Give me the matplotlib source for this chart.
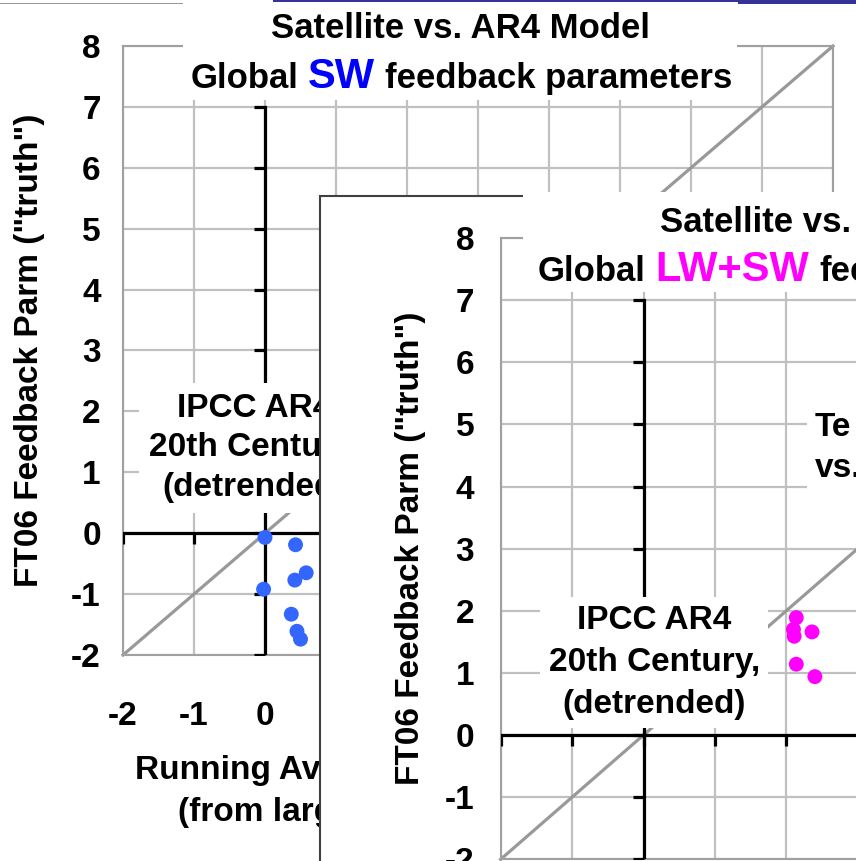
import matplotlib
matplotlib.use("Agg")
import matplotlib.pyplot as plt
from matplotlib.patches import Rectangle
from matplotlib.offsetbox import TextArea, HPacker, AnnotationBbox

plt.rcParams['font.family'] = ['Liberation Sans', 'DejaVu Sans']
plt.rcParams['font.weight'] = 'bold'
plt.rcParams['axes.unicode_minus'] = False

# data
ticks = list(range(-2, 9))
axis_ticks = list(range(-2, 8))
# back slide x labels right of 0 sit under the front slide
back_xticklabels = ['-2', '-1', '0'] + [''] * 8

# back slide: SW feedback (running avg slope vs FT06 "truth")
sw_x = [0.00, 0.43, 0.58, 0.42, -0.02, 0.37, 0.45, 0.50]
sw_y = [-0.07, -0.19, -0.65, -0.77, -0.92, -1.33, -1.61, -1.74]

# front slide: LW+SW feedback
net_x = [2.14, 2.10, 2.11, 2.36, 2.14, 2.40]
net_y = [1.89, 1.70, 1.59, 1.66, 1.14, 0.94]

ylabel_text = 'FT06 Feedback Parm ("truth")'
ipcc_text = "IPCC AR4\n20th Century,\n(detrended)"
xlabel_lines = ["Running Avg.", "(from large"]

W, H = 856, 861
FS = 24
TFS = 25


def fx(px):
    return px / W


def fy(py):
    return 1 - py / H


def white_box(ax, x0, y0, x1, y1):
    # white cover box given in screen pixels (top-left origin)
    r = Rectangle((fx(x0), fy(y1)), (x1 - x0) / W, (y1 - y0) / H,
                  transform=ax.figure.transFigure, facecolor='white',
                  edgecolor='none', clip_on=False, zorder=4)
    ax.add_patch(r)


def rich_line(ax, parts, x, y, align):
    boxes = [TextArea(t, textprops=dict(fontsize=s, fontweight='bold', color=c))
             for t, s, c in parts]
    pack = HPacker(children=boxes, align='baseline', pad=0, sep=7)
    ab = AnnotationBbox(pack, (fx(x), fy(y)), xycoords='figure fraction',
                        box_alignment=(align, 0.5), frameon=False, pad=0,
                        annotation_clip=False, zorder=6)
    ax.add_artist(ab)


def draw_chart(ax, xs, ys, color, ylab_x, ypad):
    ax.set_xlim(-2, 8)
    ax.set_ylim(-2, 8)
    ax.set_xticks(ticks)
    ax.set_yticks(ticks)
    ax.grid(True, color='#c0c0c0', lw=1.6)
    ax.set_axisbelow(True)
    for s in ax.spines.values():
        s.set_color('#a0a0a0')
        s.set_linewidth(1.5)
    ax.tick_params(length=0, labelsize=FS)
    ax.tick_params(axis='x', pad=33)
    ax.tick_params(axis='y', pad=ypad)
    # 1:1 line
    ax.plot([-2, 8], [-2, 8], color='#999999', lw=2.3, zorder=2, clip_on=False)
    # black axes through the origin with their tick marks
    ax.plot([-2, 7], [0, 0], color='black', lw=2.3, zorder=2.6)
    ax.plot([0, 0], [-2, 7], color='black', lw=2.3, zorder=2.6)
    ax.plot(axis_ticks, [0] * len(axis_ticks), ls='none', marker=3, ms=8,
            mew=2.3, color='black', zorder=2.6)
    ax.plot([0] * len(axis_ticks), axis_ticks, ls='none', marker=0, ms=8,
            mew=2.3, color='black', zorder=2.6)
    ax.scatter(xs, ys, s=115, color=color, edgecolors='none', zorder=3)
    ax.text(ylab_x, 0.5, ylabel_text, rotation=90, transform=ax.transAxes,
            ha='center', va='center', fontsize=FS)


fig = plt.figure(figsize=(W / 100, H / 100), dpi=100)

# ---- back slide ----
ax1 = fig.add_axes([fx(123), fy(655), (833 - 123) / W, (655 - 46) / H])
ax1.set_zorder(0)
draw_chart(ax1, sw_x, sw_y, '#3366ff', -0.131, 16)
ax1.set_xticklabels(back_xticklabels)
ax1.text(-0.15, 1.40, ipcc_text, ha='center', va='center', fontsize=FS,
         linespacing=1.35, zorder=5,
         bbox=dict(facecolor='white', edgecolor='none', boxstyle='square,pad=0.3'))
white_box(ax1, 183, 0, 737, 100)
rich_line(ax1, [("Satellite vs. AR4 Model", TFS, 'black')], 461, 28, 0.5)
rich_line(ax1, [("Global", TFS, 'black'), ("SW", 30, '#0000ff'),
                ("feedback parameters", TFS, 'black')], 461, 77, 0.5)
ax1.text(fx(135), fy(770), xlabel_lines[0], transform=fig.transFigure,
         ha='left', va='center', fontsize=FS)
ax1.text(fx(178), fy(812), xlabel_lines[1], transform=fig.transFigure,
         ha='left', va='center', fontsize=FS)

# ---- front slide pasted on top ----
panel = Rectangle((fx(320), fy(900)), (900 - 320) / W, (900 - 196) / H,
                  transform=fig.transFigure, facecolor='white',
                  edgecolor='#404040', lw=1.5, zorder=1)
fig.add_artist(panel)

ax2 = fig.add_axes([fx(500.7), fy(859.3), 714 / W, (859.3 - 238) / H])
ax2.set_zorder(2)
draw_chart(ax2, net_x, net_y, '#ff00ff', -0.127, 19)
ax2.set_xticklabels([])
ax2.text(0.15, 1.17, ipcc_text, ha='center', va='center', fontsize=FS,
         linespacing=1.45, zorder=5,
         bbox=dict(facecolor='white', edgecolor='none', boxstyle='square,pad=0.25'))
ax2.text(2.40, 4.62, "Te\nvs.", ha='left', va='center',
         fontsize=FS, linespacing=1.4, zorder=5,
         bbox=dict(facecolor='white', edgecolor='none', boxstyle='square,pad=0.25'))
white_box(ax2, 523, 192, 900, 292)
white_box(ax2, 808, 395, 900, 510)
rich_line(ax2, [("Satellite vs.", TFS, 'black')], 660, 222, 0.0)
rich_line(ax2, [("Global", TFS, 'black'), ("LW+SW", 30, '#ff00ff'),
                ("fee", TFS, 'black')], 538, 270, 0.0)

# slide edges peeking in at the very top
fig.add_artist(Rectangle((0, fy(4)), fx(183), 1 / H, transform=fig.transFigure,
                         facecolor='#999999', edgecolor='none', zorder=10))
fig.add_artist(Rectangle((fx(273), fy(2)), 1 - fx(273), 2 / H, transform=fig.transFigure,
                         facecolor='#333399', edgecolor='none', zorder=10))
fig.add_artist(Rectangle((fx(738), fy(4)), 1 - fx(738), 4 / H, transform=fig.transFigure,
                         facecolor='#333399', edgecolor='none', zorder=10))

fig.savefig('out.png', dpi=100)
